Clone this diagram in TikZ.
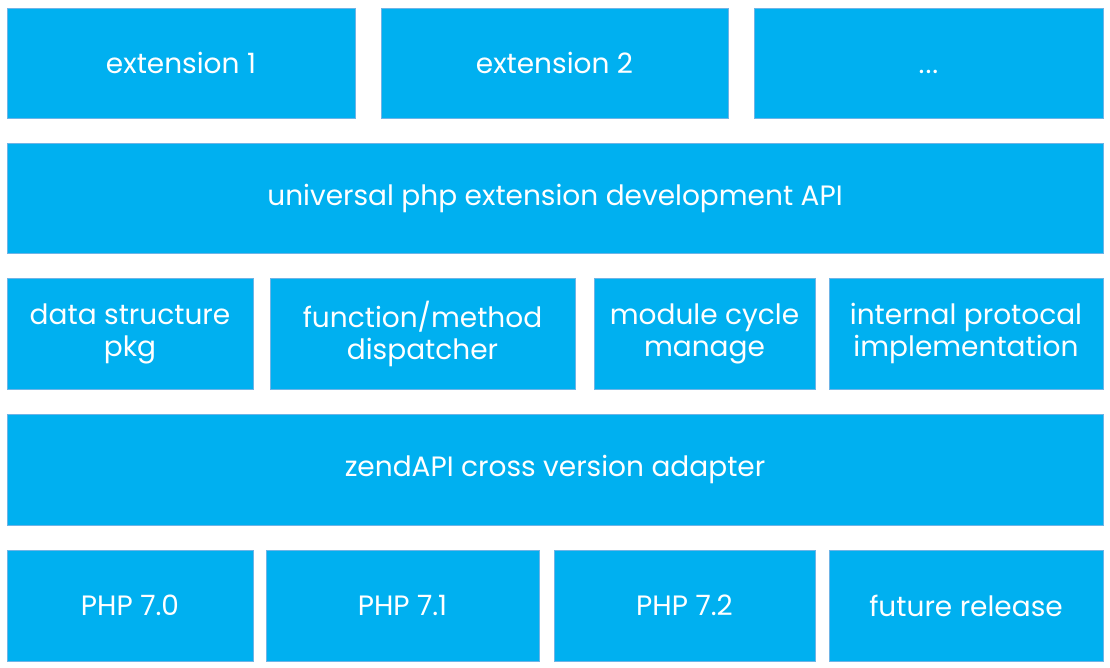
\documentclass[tikz,border=0pt]{standalone}
\usepackage{fontspec}
\setmainfont{Poppins}
\usepackage{tikz}
\usetikzlibrary{positioning}
\definecolor{layerblue}{RGB}{0,176,240}
\definecolor{edgeblue}{RGB}{110,180,230}
\tikzset{layer/.style={rectangle, draw=edgeblue, fill=layerblue, line width=0.8pt, text=white, align=center, inner sep=0pt, font=\fontsize{28}{32}\selectfont}}

\begin{document}
\begin{tikzpicture}[x=1pt, y=-1pt]
        \useasboundingbox (0,0) rectangle (1110,668);
        % extensions
        \node [layer, minimum width=348pt, minimum height=110pt](ext1) at (181,63) {extension 1};
        \node [layer, minimum width=347pt, minimum height=110pt](ext2) at (554.5,63) {extension 2};
        \node [layer, minimum width=349pt, minimum height=110pt](extmore) at (928.5,63) {\vphantom{extension 1}.\kern1pt.\kern1pt.};
        % api
        \node [layer, minimum width=1096pt, minimum height=110pt](api) at (555,198) {universal php extension development API};
        % internals
        \node [layer, minimum width=246pt, minimum height=111pt](datapkg) at (130,333.5) {data structure\\pkg};
        \node [layer, minimum width=305pt, minimum height=111pt](dispatcher) at (422.5,333.5) {function/method\\dispatcher};
        \node [layer, minimum width=221pt, minimum height=111pt](cycle) at (704.5,333.5) {module cycle\\manage};
        \node [layer, minimum width=274pt, minimum height=111pt](protocol) at (966,333.5) {internal protocal\\implementation};
        % adapter
        \node [layer, minimum width=1096pt, minimum height=111pt](adapter) at (555,469.5) {zendAPI cross version adapter};
        % php versions
        \node [layer, minimum width=246pt, minimum height=111pt](php70) at (130,605.5) {PHP 7.0};
        \node [layer, minimum width=273pt, minimum height=111pt](php71) at (402.5,605.5) {PHP 7.1};
        \node [layer, minimum width=261pt, minimum height=111pt](php72) at (684.5,605.5) {PHP 7.2};
        \node [layer, minimum width=274pt, minimum height=111pt](future) at (966,605.5) {future release};
\end{tikzpicture}
\end{document}
